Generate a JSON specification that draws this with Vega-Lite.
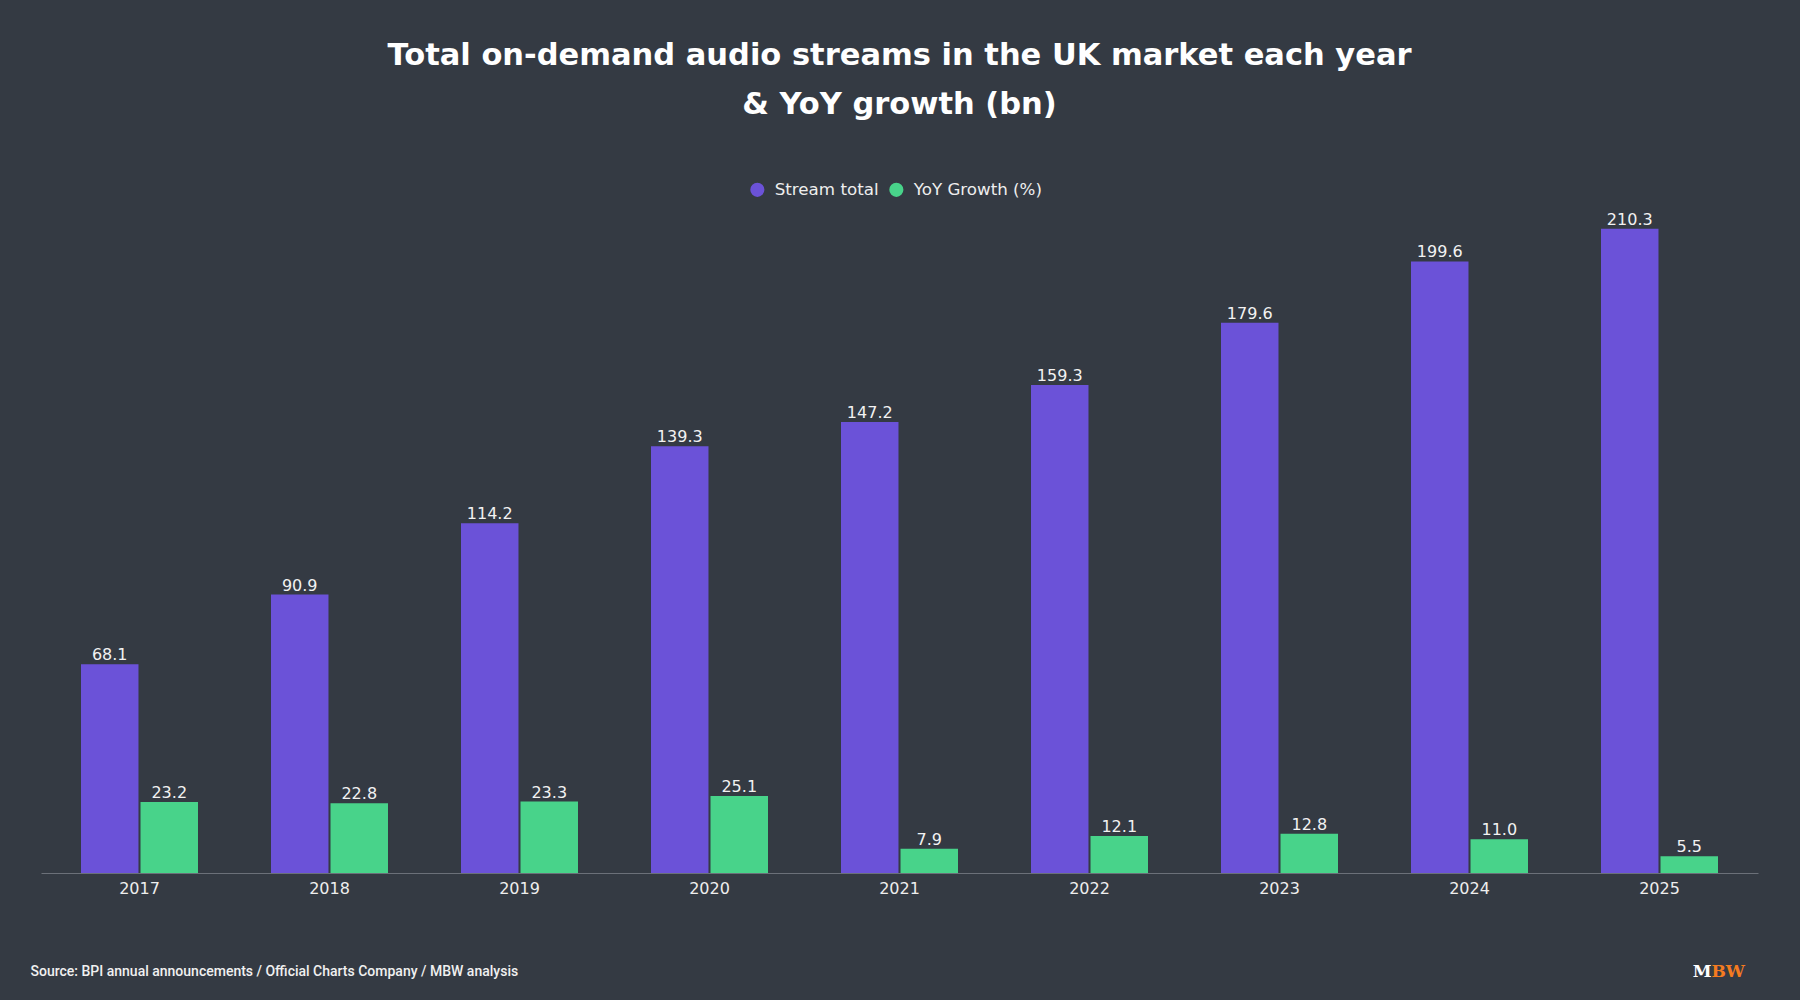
{
  "$schema": "https://vega.github.io/schema/vega-lite/v6.json",
  "autosize": {"type": "none"},
  "width": 1717,
  "height": 674,
  "padding": {"left": 41, "top": 199, "right": 42, "bottom": 127},
  "background": "#343a43",
  "config": {"view": {"stroke": null}, "font": "DejaVu Sans"},
  "title": {
    "text": ["Total on-demand audio streams in the UK market each year", "& YoY growth (bn)"],
    "font": "DejaVu Sans",
    "fontSize": 30.5,
    "fontWeight": "bold",
    "color": "#ffffff",
    "anchor": "middle",
    "frame": "group",
    "lineHeight": 49,
    "offset": 61
  },
  "data": {
    "values": [
      {"year": "2017", "series": "Stream total", "value": 68.1},
      {"year": "2017", "series": "YoY Growth (%)", "value": 23.2},
      {"year": "2018", "series": "Stream total", "value": 90.9},
      {"year": "2018", "series": "YoY Growth (%)", "value": 22.8},
      {"year": "2019", "series": "Stream total", "value": 114.2},
      {"year": "2019", "series": "YoY Growth (%)", "value": 23.3},
      {"year": "2020", "series": "Stream total", "value": 139.3},
      {"year": "2020", "series": "YoY Growth (%)", "value": 25.1},
      {"year": "2021", "series": "Stream total", "value": 147.2},
      {"year": "2021", "series": "YoY Growth (%)", "value": 7.9},
      {"year": "2022", "series": "Stream total", "value": 159.3},
      {"year": "2022", "series": "YoY Growth (%)", "value": 12.1},
      {"year": "2023", "series": "Stream total", "value": 179.6},
      {"year": "2023", "series": "YoY Growth (%)", "value": 12.8},
      {"year": "2024", "series": "Stream total", "value": 199.6},
      {"year": "2024", "series": "YoY Growth (%)", "value": 11.0},
      {"year": "2025", "series": "Stream total", "value": 210.3},
      {"year": "2025", "series": "YoY Growth (%)", "value": 5.5}
    ]
  },
  "encoding": {
    "x": {
      "field": "year",
      "type": "nominal",
      "scale": {"paddingInner": 0.3842, "paddingOuter": 0.2105},
      "axis": {
        "labelAngle": 0,
        "labelFont": "DejaVu Sans",
        "labelFontSize": 16,
        "labelColor": "#eeeeee",
        "labelPadding": 7,
        "ticks": false,
        "domainColor": "#6b7079",
        "domainWidth": 1,
        "grid": false,
        "title": "Source: BPI annual announcements / Official Charts Company / MBW analysis",
        "titleFont": "Roboto",
        "titleFontWeight": 500,
        "titleFontSize": 14,
        "titleColor": "#f0f0f0",
        "titleX": -11,
        "titleY": 102,
        "titleAlign": "left",
        "titleBaseline": "alphabetic"
      }
    },
    "xOffset": {
      "field": "series",
      "type": "nominal",
      "sort": ["Stream total", "YoY Growth (%)"],
      "scale": {"paddingInner": 0.034}
    }
  },
  "layer": [
    {
      "mark": {"type": "bar"},
      "encoding": {
        "y": {
          "field": "value",
          "type": "quantitative",
          "scale": {"domain": [0, 220], "nice": false},
          "axis": {
            "orient": "left",
            "domain": false,
            "ticks": false,
            "labels": false,
            "grid": false,
            "title": "M",
            "titleAngle": 0,
            "titleX": 1670,
            "titleY": 777,
            "titleAlign": "right",
            "titleBaseline": "alphabetic",
            "titleFont": "DejaVu Serif",
            "titleFontWeight": "bold",
            "titleFontSize": 17,
            "titleColor": "#ffffff"
          }
        },
        "color": {
          "field": "series",
          "type": "nominal",
          "sort": ["Stream total", "YoY Growth (%)"],
          "scale": {"domain": ["Stream total", "YoY Growth (%)"], "range": ["#6b52d8", "#48d38a"]},
          "legend": {
            "orient": "none",
            "legendX": 708,
            "legendY": -18,
            "direction": "horizontal",
            "title": null,
            "symbolType": "circle",
            "symbolSize": 200,
            "symbolStrokeWidth": 0,
            "labelFont": "DejaVu Sans",
            "labelFontSize": 16.7,
            "labelColor": "#eeeeee",
            "labelOffset": 9,
            "columnPadding": 9,
            "padding": 0
          }
        }
      }
    },
    {
      "mark": {"type": "text", "baseline": "alphabetic", "align": "center", "dy": -4, "fontSize": 16, "font": "DejaVu Sans", "color": "#f2f2f2"},
      "encoding": {
        "y": {
          "field": "value",
          "type": "quantitative",
          "scale": {"domain": [0, 220], "nice": false},
          "axis": {
            "orient": "right",
            "domain": false,
            "ticks": false,
            "labels": false,
            "grid": false,
            "title": "BW",
            "titleAngle": 0,
            "titleX": -47,
            "titleY": 777,
            "titleAlign": "left",
            "titleBaseline": "alphabetic",
            "titleFont": "DejaVu Serif",
            "titleFontWeight": "bold",
            "titleFontSize": 17,
            "titleColor": "#f47b20"
          }
        },
        "text": {"field": "value", "type": "quantitative", "format": ".1f"}
      }
    }
  ],
  "resolve": {"axis": {"y": "independent"}}
}
